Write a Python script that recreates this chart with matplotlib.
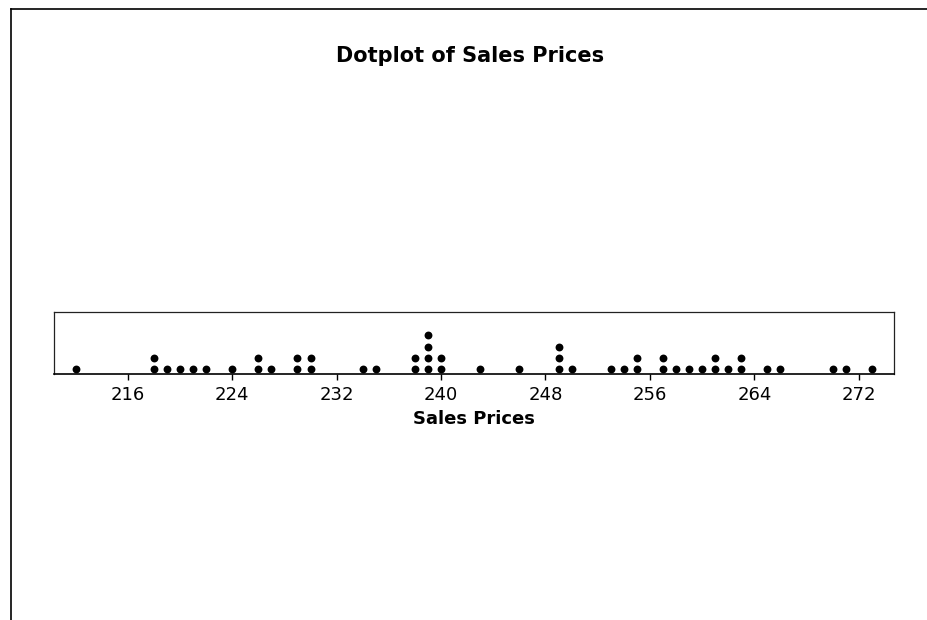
import matplotlib
matplotlib.use("Agg")
import matplotlib.pyplot as plt
from matplotlib.lines import Line2D
from collections import Counter

# Data: sales prices (each dot = one observation)
sales_prices = [212, 218, 218, 219, 220, 221, 222, 224, 226, 226, 227,
                229, 229, 230, 230, 234, 235, 238, 238, 239, 239, 239, 239,
                240, 240, 243, 246, 249, 249, 249, 250, 253, 254, 255, 255,
                257, 257, 258, 259, 260, 261, 261, 262, 263, 263, 265, 266,
                270, 271, 273]
tick_values = [216, 224, 232, 240, 248, 256, 264, 272]
title_text = "Dotplot of Sales Prices"
xlabel_text = "Sales Prices"

fig = plt.figure(figsize=(9.27, 6.2), dpi=100)
ax = fig.add_axes([54/927, 1 - 374.3/620, 840/927, 62/620])

# stack dots
xs, ys = [], []
counts = Counter()
for v in sales_prices:
    k = counts[v]
    counts[v] += 1
    xs.append(v)
    ys.append(k + 0.45)

ax.scatter(xs, ys, s=32, color="black", linewidths=0, zorder=3)
ax.set_xlim(210.35, 274.7)
ax.set_ylim(0, 5.5)
ax.set_yticks([])
ax.set_xticks(tick_values)
ax.set_xticklabels([str(t) for t in tick_values], fontsize=13)
ax.tick_params(axis="x", direction="out", length=4.5, width=1, pad=4, colors="black")
for s in ["top", "right", "left"]:
    ax.spines[s].set_linewidth(0.9)
    ax.spines[s].set_color("#222222")
ax.spines["bottom"].set_linewidth(1.2)
ax.spines["bottom"].set_color("black")
ax.set_xlabel(xlabel_text, fontsize=13, fontweight="bold", labelpad=4)

fig.text(470/927, 1 - 62/620, title_text, ha="center", va="baseline",
         fontsize=15, fontweight="bold")

# outer frame (top and left edges)
fig.add_artist(Line2D([11/927, 1.0], [1 - 9/620, 1 - 9/620], color="black", lw=1.2,
                      transform=fig.transFigure))
fig.add_artist(Line2D([11/927, 11/927], [0, 1 - 9/620], color="black", lw=1.2,
                      transform=fig.transFigure))

fig.savefig("out.png", dpi=100)
